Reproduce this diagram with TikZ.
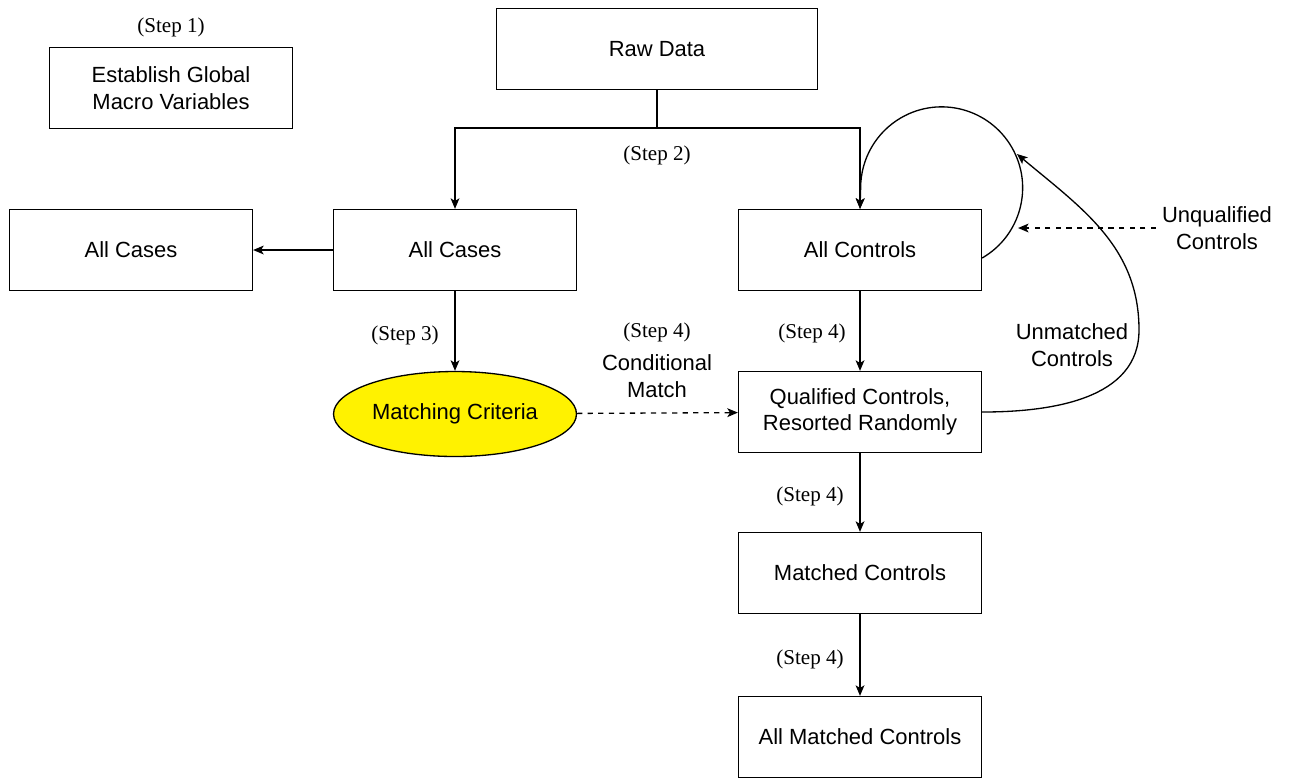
\documentclass[tikz,border=0pt]{standalone}
\usepackage{fontspec}
\setmainfont{Liberation Sans}
\newfontfamily\stepfont{Liberation Serif}
\usetikzlibrary{shapes,arrows.meta,positioning}

\begin{document}
\begin{tikzpicture}[
    x=0.02cm, y=-0.02cm,
    box/.style={
        rectangle,
        draw,
        line width=0.75pt,
        minimum height=1.62cm,
        minimum width=4.86cm,
        align=center,
        font=\fontsize{12.5}{15}\selectfont
    },
    crit/.style={
        ellipse,
        draw,
        line width=0.75pt,
        fill=yellow,
        inner sep=0pt,
        minimum height=1.7cm,
        minimum width=4.86cm,
        font=\fontsize{12.5}{15}\selectfont
    },
    arrow/.style={
        ->,
        line width=0.75pt,
        >={Stealth[length=6pt,width=5pt,inset=1.5pt]}
    },
    dasharrow/.style={
        arrow,
        dashed
    },
    steplabel/.style={
        font=\stepfont\fontsize{12}{14}\selectfont
    },
    note/.style={
        align=center,
        font=\fontsize{12.5}{15}\selectfont
    }
]

\useasboundingbox (0,0) rectangle (1300,779);

% Step 1
\node[box] (globals) at (171,88) {Establish Global\\Macro Variables};
\node[steplabel] (step1) at (171,27) {(Step 1)};

% Raw data and split
\node[box, minimum width=6.42cm] (raw) at (657,49) {Raw Data};
\node[box] (cases) at (455,250) {All Cases};
\node[box] (ctl) at (860,250) {All Controls};
\node[box] (casesout) at (131,250) {All Cases};
\node[steplabel] (step2) at (657,155) {(Step 2)};

% Matching
\node[crit] (criteria) at (455,414) {Matching Criteria};
\node[box] (qual) at (860,412) {Qualified Controls,\\Resorted Randomly};
\node[box] (matched) at (860,573) {Matched Controls};
\node[box] (allmatched) at (860,737) {All Matched Controls};

\node[steplabel] (step3) at (405,335) {(Step 3)};
\node[steplabel] (step4a) at (657,332) {(Step 4)};
\node[note] (condmatch) at (657,376) {Conditional\\Match};
\node[steplabel] (step4b) at (812,333) {(Step 4)};
\node[steplabel] (step4c) at (810,496) {(Step 4)};
\node[steplabel] (step4d) at (810,659) {(Step 4)};

% Side notes
\node[note] (unqual) at (1217,228) {Unqualified\\Controls};
\node[note] (unmatched) at (1072,345) {Unmatched\\Controls};
\coordinate (loopside) at (1018,228);
\coordinate (looptop) at (1017,154);

% Arrows
\draw[line width=0.75pt] (raw) -- (657,128);
\draw[arrow] (657,128) -| (cases);
\draw[arrow] (657,128) -| (ctl);
\draw[arrow] (cases) -- (casesout);
\draw[arrow] (cases) -- (criteria);
\draw[dasharrow] (criteria) -- (qual);
\draw[arrow] (ctl) -- (qual);
\draw[arrow] (qual) -- (matched);
\draw[arrow] (matched) -- (allmatched);

% Loops back to all controls
\draw[arrow] ([yshift=-0.16cm]ctl.east) arc[start angle=60, end angle=-180, radius=81]
    -- (ctl.north);
\draw[dasharrow] (unqual.west) -- (loopside);
\draw[arrow] (qual.east) to[out=0,in=-90] (1139,330) to[out=90,in=-40] (looptop);

\end{tikzpicture}
\end{document}
